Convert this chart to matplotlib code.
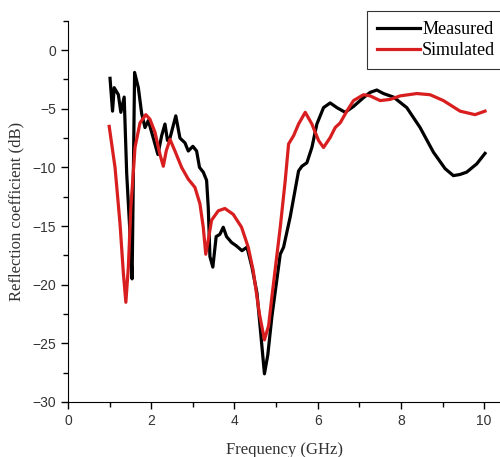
import matplotlib
matplotlib.use('Agg')
import matplotlib.pyplot as plt
from matplotlib.ticker import MultipleLocator

# measured curve (GHz, dB)
meas_f = [1.01, 1.07, 1.11, 1.21, 1.27, 1.35, 1.41, 1.48, 1.54, 1.60, 1.69, 1.77, 1.85,
          1.93, 2.05, 2.16, 2.25, 2.33, 2.39, 2.45, 2.59, 2.69, 2.81, 2.89, 3.00, 3.09,
          3.16, 3.25, 3.33, 3.37, 3.41, 3.48, 3.56, 3.65, 3.73, 3.81, 3.93, 4.05, 4.18,
          4.30, 4.42, 4.54, 4.64, 4.72, 4.80, 4.90, 5.10, 5.18, 5.34, 5.54, 5.62, 5.74,
          5.86, 5.98, 6.14, 6.30, 6.46, 6.66, 6.86, 7.10, 7.26, 7.42, 7.58, 7.82, 8.14,
          8.46, 8.78, 9.06, 9.26, 9.42, 9.58, 9.82, 10.02]
meas_db = [-2.4, -5.2, -3.2, -3.8, -5.3, -4.0, -10.5, -15.0, -19.5, -1.9, -3.2, -5.4, -6.6,
           -6.0, -7.5, -8.9, -7.3, -6.3, -7.7, -7.5, -5.6, -7.5, -7.9, -8.6, -8.2, -8.6,
           -10.0, -10.4, -11.1, -13.4, -17.6, -18.5, -15.9, -15.7, -15.1, -15.9, -16.4, -16.7, -17.1,
           -16.8, -18.5, -20.7, -24.5, -27.6, -26.0, -22.7, -17.4, -16.8, -14.2, -10.3, -9.9, -9.6,
           -8.3, -6.3, -4.9, -4.5, -4.9, -5.3, -4.8, -4.05, -3.6, -3.4, -3.7, -4.0, -4.9,
           -6.6, -8.7, -10.1, -10.7, -10.6, -10.4, -9.7, -8.8]

# simulated curve (GHz, dB)
sim_f = [0.99, 1.13, 1.25, 1.33, 1.39, 1.45, 1.51, 1.61, 1.73, 1.87, 1.97, 2.09, 2.21,
         2.29, 2.36, 2.45, 2.57, 2.73, 2.89, 3.05, 3.17, 3.25, 3.31, 3.37, 3.45, 3.61,
         3.77, 3.97, 4.17, 4.33, 4.45, 4.60, 4.72, 4.82, 4.90, 5.10, 5.22, 5.30, 5.42,
         5.54, 5.70, 5.86, 6.02, 6.14, 6.30, 6.42, 6.54, 6.70, 6.86, 7.10, 7.26, 7.50,
         7.74, 7.98, 8.38, 8.70, 9.02, 9.42, 9.78, 10.02]
sim_db = [-6.5, -10.0, -14.8, -19.0, -21.5, -18.5, -13.4, -8.3, -6.2, -5.5, -5.9, -7.0, -8.9,
          -9.9, -8.6, -7.6, -8.6, -10.0, -11.0, -11.7, -13.1, -15.1, -17.4, -16.2, -14.5, -13.7,
          -13.5, -14.0, -15.1, -16.8, -18.8, -22.5, -24.7, -23.5, -21.0, -15.1, -11.1, -8.0, -7.3,
          -6.3, -5.3, -6.3, -7.7, -8.3, -7.45, -6.6, -6.2, -5.2, -4.3, -3.8, -3.9, -4.3,
          -4.2, -3.9, -3.7, -3.8, -4.3, -5.2, -5.5, -5.2]

fig = plt.figure(figsize=(5, 4.57), dpi=100)
ax = fig.add_axes([0.136, 0.1204, 0.864, 0.834])

ax.plot(meas_f, meas_db, color='black', lw=2.3, label='Measured')
ax.plot(sim_f, sim_db, color='#d81e1e', lw=2.3, label='Simulated')

ax.set_xlim(0, 10.38)
ax.set_ylim(-30, 2.5)
ax.spines['top'].set_visible(False)
ax.spines['right'].set_visible(False)
ax.xaxis.set_major_locator(MultipleLocator(2))
ax.xaxis.set_minor_locator(MultipleLocator(1))
ax.yaxis.set_major_locator(MultipleLocator(5))
ax.yaxis.set_minor_locator(MultipleLocator(2.5))
ax.tick_params(which='major', length=5, width=1, direction='out')
ax.tick_params(which='minor', length=3.5, width=1, direction='out')
for lab in ax.get_xticklabels() + ax.get_yticklabels():
    lab.set_family('Liberation Sans')
    lab.set_fontsize(10)
    lab.set_color('#333333')

ax.set_xlabel('Frequency (GHz)', family='Liberation Serif', fontsize=12, color='#333333', labelpad=10)
ax.set_ylabel('Reflection coefficient (dB)', family='Liberation Serif', fontsize=12, color='#333333', labelpad=6)

leg = fig.legend(loc='upper left', bbox_to_anchor=(0.734, 0.976), frameon=True, fancybox=False,
                 edgecolor='black', handlelength=2.4, handletextpad=0.1, borderpad=0.55,
                 borderaxespad=0, labelspacing=0.25, prop={'family': 'Liberation Serif', 'size': 13})
leg.get_frame().set_linewidth(0.8)

fig.savefig('out.png', dpi=100)
